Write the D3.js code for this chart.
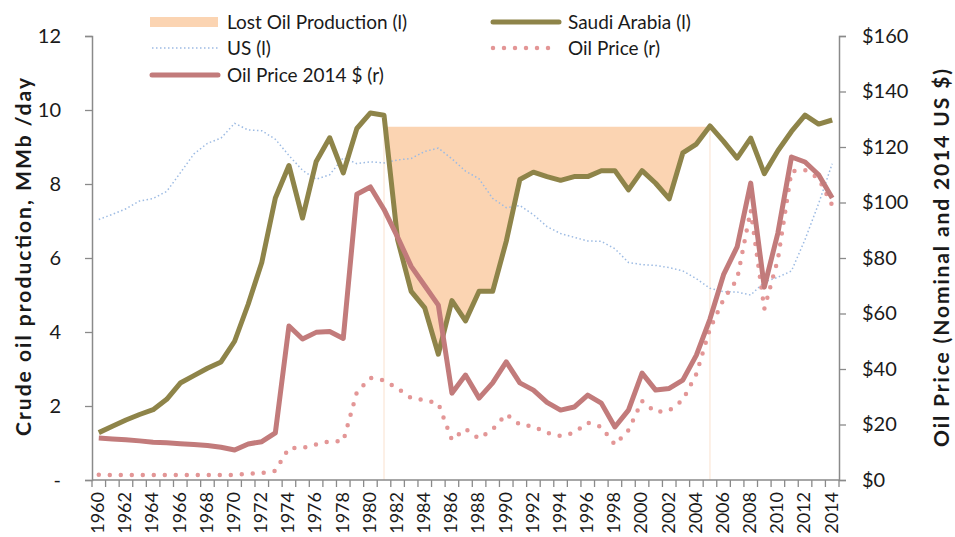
<!DOCTYPE html>
<html><head><meta charset="utf-8">
<script src="https://cdn.jsdelivr.net/npm/d3@7"></script>
<style>
body{margin:0;background:#fff;}
svg{display:block;font-family:Lato,"Open Sans",sans-serif;}
</style></head>
<body><svg id="c" width="955" height="537"></svg>
<script>
const years = d3.range(1960, 2015);
const saudi = [1.28,1.45,1.62,1.77,1.90,2.18,2.62,2.82,3.02,3.19,3.75,4.75,5.88,7.62,8.50,7.08,8.60,9.25,8.30,9.50,9.92,9.86,6.50,5.10,4.65,3.40,4.85,4.30,5.10,5.10,6.45,8.12,8.32,8.20,8.10,8.20,8.20,8.36,8.36,7.84,8.36,8.02,7.60,8.84,9.08,9.57,9.15,8.70,9.24,8.28,8.90,9.42,9.86,9.62,9.73];
const us = [7.04,7.18,7.33,7.54,7.61,7.80,8.30,8.81,9.10,9.24,9.64,9.46,9.44,9.21,8.77,8.37,8.13,8.25,8.71,8.55,8.60,8.57,8.65,8.69,8.88,8.97,8.68,8.35,8.14,7.61,7.36,7.42,7.17,6.85,6.66,6.56,6.46,6.45,6.25,5.88,5.82,5.80,5.74,5.65,5.44,5.18,5.09,5.08,5.00,5.35,5.48,5.65,6.50,7.47,8.55];
const priceNominal = [1.90,1.80,1.80,1.80,1.80,1.80,1.80,1.80,1.80,1.80,1.80,2.24,2.48,3.29,11.58,11.53,12.80,13.92,14.02,31.61,36.83,35.93,32.97,29.55,28.78,27.56,14.43,18.44,14.92,18.23,23.73,20.00,19.32,16.97,15.82,17.02,20.67,19.09,12.72,17.97,28.50,24.44,25.02,28.83,38.27,54.52,65.14,72.39,97.26,61.67,79.50,111.26,111.67,108.66,98.95];
const priceReal = [15.1,14.8,14.5,14.1,13.6,13.4,13.1,12.8,12.4,11.8,10.8,13.0,13.8,17.0,55.5,50.8,53.2,53.5,51.0,103.0,105.6,97.5,87.5,77.0,70.0,63.0,31.3,37.8,29.5,35.0,42.6,35.0,32.4,28.0,25.2,26.3,30.6,27.7,19.1,25.2,38.5,32.4,33.0,36.0,45.0,58.0,74.0,84.0,107.0,69.5,89.0,116.4,114.6,110.0,101.6];
const lostStart = 1981, lostEnd = 2005, lostLevel = 9.55;
const leftTicks = [0,2,4,6,8,10,12];
const rightTicks = [0,20,40,60,80,100,120,140,160];
const xLabelYears = years.filter(y => y % 2 === 0);

const svg = d3.select("#c");
const L = 92, R = 839, T = 36, B = 480;
const x = d3.scaleBand().domain(years).range([L, R]);
const cx = y => x(y) + x.bandwidth()/2;
const yL = d3.scaleLinear().domain([0,12]).range([B, T]);
const yR = d3.scaleLinear().domain([0,160]).range([B, T]);

const C = {area:"#fbd4b2", saudi:"#8e8449", us:"#9dbbe3", nom:"#e39696", real:"#c27b7b", axis:"#8a8a8a", text:"#1a1a1a", edge:"#fbe6d6"};

// Lost production area
const lostYears = years.filter(y => y >= lostStart && y <= lostEnd);
const sIdx = y => saudi[years.indexOf(y)];
svg.append("path").datum(lostYears)
  .attr("fill", C.area)
  .attr("d", d3.area().x(cx).y0(y => yL(Math.min(sIdx(y), lostLevel))).y1(() => yL(lostLevel)));
[lostStart, lostEnd].forEach(y => {
  svg.append("line").attr("x1", cx(y)).attr("x2", cx(y))
    .attr("y1", yL(0)).attr("y2", yL(Math.min(sIdx(y), lostLevel)))
    .attr("stroke", C.edge).attr("stroke-width", 1.2);
});

const line = (arr, scale) => d3.line().x((d,i) => cx(years[i])).y(d => scale(d))(arr);

svg.append("path").attr("d", line(us, yL)).attr("fill","none")
  .attr("stroke", C.us).attr("stroke-width", 1.5).attr("stroke-dasharray","1.5,2.5");
svg.append("path").attr("d", line(saudi, yL)).attr("fill","none")
  .attr("stroke", C.saudi).attr("stroke-width", 5).attr("stroke-linejoin","round");
svg.append("path").attr("d", line(priceNominal, yR)).attr("fill","none")
  .attr("stroke", C.nom).attr("stroke-width", 4.5).attr("stroke-linecap","round").attr("stroke-dasharray","0,11");
svg.append("path").attr("d", line(priceReal, yR)).attr("fill","none")
  .attr("stroke", C.real).attr("stroke-width", 5).attr("stroke-linejoin","round");

// Axes
const gL = svg.append("g").attr("transform", `translate(${L},0)`)
  .call(d3.axisLeft(yL).tickValues(leftTicks).tickSize(7).tickPadding(24).tickFormat(d => d === 0 ? "-" : d));
const gR = svg.append("g").attr("transform", `translate(${R},0)`)
  .call(d3.axisRight(yR).tickValues(rightTicks).tickSize(7).tickPadding(16).tickFormat(d => "$" + d));
const gB = svg.append("g").attr("transform", `translate(0,${B})`)
  .call(d3.axisBottom(x).tickValues(xLabelYears).tickSize(0).tickPadding(0));
gB.selectAll("text").attr("transform","rotate(-90)").attr("x",-12).attr("y",-1).attr("dy","0.35em").attr("text-anchor","end");
gB.select(".domain").remove();
svg.append("line").attr("x1", L).attr("x2", R).attr("y1", B).attr("y2", B).attr("stroke", C.axis).attr("stroke-width", 1.5);
svg.append("g").selectAll("line").data(years.concat([null])).join("line")
  .attr("x1", (d,i) => i < years.length ? x(d) : R).attr("x2", (d,i) => i < years.length ? x(d) : R)
  .attr("y1", B).attr("y2", B + 7).attr("stroke", C.axis).attr("stroke-width", 1.3);

[gL, gR].forEach(g => {
  g.select(".domain").attr("stroke", C.axis).attr("stroke-width", 1.5);
  g.selectAll(".tick line").attr("stroke", C.axis).attr("stroke-width", 1.3);
  g.selectAll("text").attr("font-size", 20).attr("fill", C.text).attr("font-family", "Lato");
});
gB.selectAll("text").attr("font-size", 18).attr("fill", C.text).attr("font-family", "Lato");

// Axis titles
svg.append("text").attr("transform", `translate(24,257) rotate(-90)`)
  .attr("text-anchor","middle").attr("dy","0.35em").attr("font-size", 21).attr("font-weight","bold").attr("fill", C.text)
  .attr("textLength", 358).attr("lengthAdjust","spacing")
  .text("Crude oil production, MMb /day");
svg.append("text").attr("transform", `translate(942,258) rotate(-90)`)
  .attr("text-anchor","middle").attr("dy","0.35em").attr("font-size", 21).attr("font-weight","bold").attr("fill", C.text)
  .attr("textLength", 378).attr("lengthAdjust","spacing")
  .text("Oil Price (Nominal and 2014 US $)");

// Legend
const lg = svg.append("g").attr("font-size", 19).attr("fill", C.text);
const items = [
  {label:"Lost Oil Production (l)", x:150, y:22, type:"rect"},
  {label:"US (l)", x:150, y:48, type:"us"},
  {label:"Oil Price 2014 $ (r)", x:150, y:75, type:"real"},
  {label:"Saudi Arabia (l)", x:491, y:22, type:"saudi"},
  {label:"Oil Price (r)", x:491, y:48, type:"nom"}
];
items.forEach(it => {
  if (it.type === "rect") {
    lg.append("rect").attr("x", it.x).attr("y", it.y - 5).attr("width", 68).attr("height", 10).attr("fill", C.area);
  } else {
    const st = {us:[C.us,1.5,"1.5,2.5","butt"], real:[C.real,5,null,"round"], saudi:[C.saudi,5,null,"round"], nom:[C.nom,4.5,"0,11","round"]}[it.type];
    lg.append("line").attr("x1", it.x + 2).attr("x2", it.x + (it.type==="nom"?66:68)).attr("y1", it.y).attr("y2", it.y)
      .attr("stroke", st[0]).attr("stroke-width", st[1]).attr("stroke-dasharray", st[2]).attr("stroke-linecap", st[3]);
  }
  lg.append("text").attr("x", it.x + 77).attr("y", it.y).attr("dy","0.35em").text(it.label);
});
</script></body></html>
